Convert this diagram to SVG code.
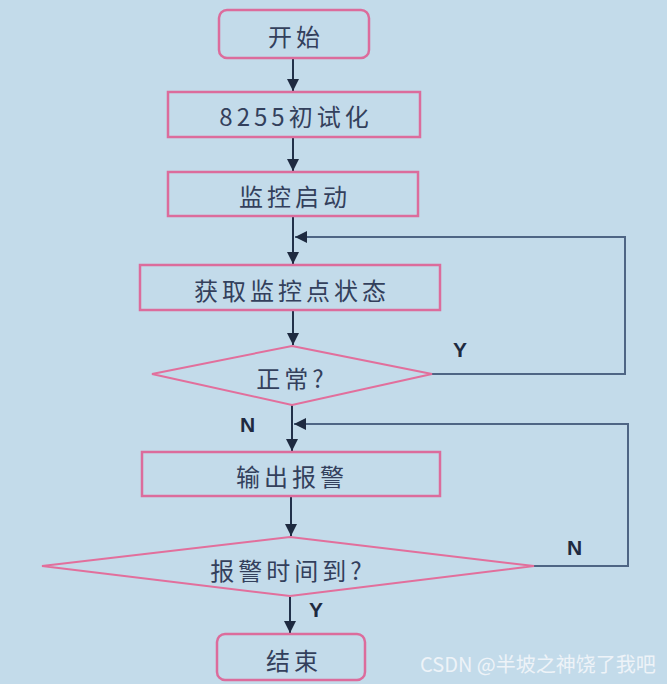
<svg xmlns="http://www.w3.org/2000/svg" width="667" height="684" viewBox="0 0 667 684">
<style>
.bg{fill:#c3dbea}
.box{fill:none;stroke:#dc6c9c;stroke-width:2.5}
.dia{fill:none;stroke:#e26f9c;stroke-width:2}
.t{font-family:"Noto Sans CJK SC","Liberation Serif",serif;font-size:24px;letter-spacing:4px;fill:#33405c;text-anchor:middle;dominant-baseline:central}
.lbl{font-family:"Liberation Sans",Arial,sans-serif;font-size:21px;font-weight:bold;fill:#1e2a40}
.ln{fill:none;stroke:#22314a;stroke-width:2}
.lp{fill:none;stroke:#4e6584;stroke-width:2}
.wm{font-family:"Noto Sans CJK SC","Liberation Sans",sans-serif;font-size:20px;fill:#eef3f8}
</style>
<defs>
<marker id="a" viewBox="0 0 12 12" refX="12" refY="6" markerWidth="12" markerHeight="12" markerUnits="userSpaceOnUse" orient="auto">
<path d="M0,0 L12,6 L0,12 Z" fill="#1e2a40"/>
</marker>
</defs>
<rect class="bg" x="0" y="0" width="667" height="684"/>
<g id="connectors">
<line class="ln" x1="293" y1="59" x2="293" y2="91" marker-end="url(#a)"/>
<line class="ln" x1="293" y1="138" x2="293" y2="171" marker-end="url(#a)"/>
<line class="ln" x1="293" y1="217" x2="293" y2="264" marker-end="url(#a)"/>
<line class="ln" x1="293" y1="311" x2="293" y2="345" marker-end="url(#a)"/>
<polyline class="lp" points="432,374 625,374 625,237 295,237" marker-end="url(#a)"/>
<line class="ln" x1="292" y1="405" x2="292" y2="451" marker-end="url(#a)"/>
<polyline class="lp" points="534,566 628,566 628,424 294,424" marker-end="url(#a)"/>
<line class="ln" x1="291" y1="497" x2="291" y2="536" marker-end="url(#a)"/>
<line class="ln" x1="290" y1="597" x2="290" y2="633" marker-end="url(#a)"/>
<text class="lbl" x="453" y="357">Y</text>
<text class="lbl" x="240" y="432">N</text>
<text class="lbl" x="567" y="555">N</text>
<text class="lbl" x="309" y="617">Y</text>
</g>
<g id="start">
<rect class="box" x="219" y="10" width="150" height="48" rx="8"/>
<text class="t" x="296" y="35">开始</text>
</g>
<g id="init">
<rect class="box" x="168" y="92" width="252" height="45"/>
<text class="t" x="296" y="115">8255初试化</text>
</g>
<g id="monstart">
<rect class="box" x="168" y="172" width="250" height="44"/>
<text class="t" x="295" y="195">监控启动</text>
</g>
<g id="getstate">
<rect class="box" x="140" y="265" width="300" height="45"/>
<text class="t" x="292" y="289">获取监控点状态</text>
</g>
<g id="normal">
<polygon class="dia" points="292,346 432,374 292,405 152,374"/>
<text class="t" x="292" y="377">正常?</text>
</g>
<g id="alarm">
<rect class="box" x="142" y="452" width="298" height="44"/>
<text class="t" x="292" y="475">输出报警</text>
</g>
<g id="timeup">
<polygon class="dia" points="290,537 534,566 290,596 42,566"/>
<text class="t" x="288" y="569">报警时间到?</text>
</g>
<g id="end">
<rect class="box" x="217" y="634" width="148" height="46" rx="8"/>
<text class="t" x="294" y="659">结束</text>
</g>
<text class="wm" x="420" y="672">CSDN @半坡之神饶了我吧</text>
</svg>
